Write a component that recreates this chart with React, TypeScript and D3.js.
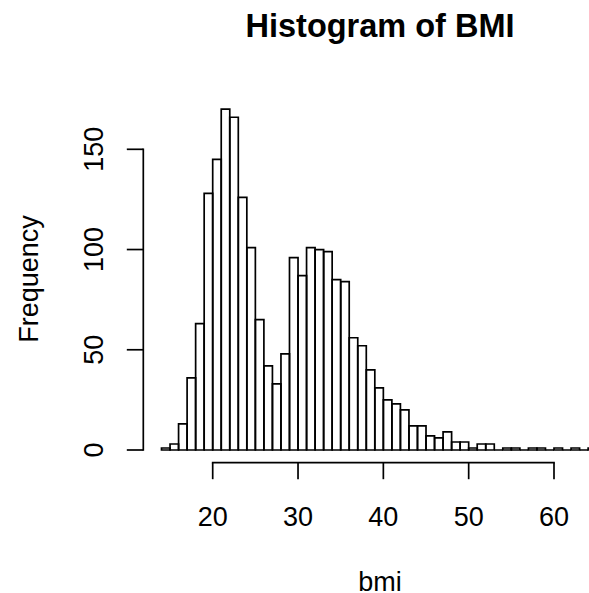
import React, { useEffect, useRef } from 'react';
import * as d3 from 'd3';

// bin edges of the histogram (width 1)
const breaks = [
  14, 15, 16, 17, 18, 19, 20, 21, 22, 23, 24, 25, 26, 27, 28, 29, 30, 31, 32, 33,
  34, 35, 36, 37, 38, 39, 40, 41, 42, 43, 44, 45, 46, 47, 48, 49, 50, 51, 52, 53,
  54, 55, 56, 57, 58, 59, 60, 61, 62, 63, 64, 65,
];

// counts per bin
const counts = [
  1, 3, 13, 36, 63, 128, 145, 170, 166, 126, 101, 65, 42, 33, 48, 96, 87, 101, 100, 99,
  85, 84, 56, 52, 40, 31, 25, 23, 20, 12, 12, 7, 6, 9, 4, 4, 1, 3, 3, 0,
  1, 1, 0, 1, 1, 0, 1, 0, 1, 0, 1,
];

const xTicks = [20, 30, 40, 50, 60];
const yTicks = [0, 50, 100, 150];

const W = 589;
const H = 593;
const FONT = '"Liberation Sans", Arial, Helvetica, sans-serif';

const App = () => {
  const ref = useRef<SVGSVGElement>(null);

  useEffect(() => {
    const svg = d3.select(ref.current);
    svg.selectAll('*').remove();

    const x = d3.scaleLinear().domain([20, 60]).range([212.7, 554]);
    const y = d3.scaleLinear().domain([0, 150]).range([450, 149.3]);

    const lw = 1.7;
    const axisY = 462.7;
    const axisX = 143.3;
    const tick = 16.5;

    // bars (paths so that empty bins still show as a line)
    svg.append('g')
      .selectAll('path')
      .data(counts)
      .enter().append('path')
      .attr('d', (d, i) => {
        const x0 = x(breaks[i]);
        const x1 = x(breaks[i + 1]);
        return `M${x0},${y(0)}H${x1}V${y(d)}H${x0}Z`;
      })
      .attr('fill', 'none')
      .attr('stroke', '#000')
      .attr('stroke-width', lw)
      .attr('stroke-linejoin', 'miter');

    // x axis
    const gx = svg.append('g');
    gx.append('line')
      .attr('x1', x(xTicks[0])).attr('x2', x(xTicks[xTicks.length - 1]))
      .attr('y1', axisY).attr('y2', axisY)
      .attr('stroke', '#000').attr('stroke-width', lw).attr('stroke-linecap', 'square');
    gx.selectAll('line.tick')
      .data(xTicks)
      .enter().append('line')
      .attr('class', 'tick')
      .attr('x1', (d) => x(d)).attr('x2', (d) => x(d))
      .attr('y1', axisY).attr('y2', axisY + tick)
      .attr('stroke', '#000').attr('stroke-width', lw);
    gx.selectAll('text')
      .data(xTicks)
      .enter().append('text')
      .attr('x', (d) => x(d))
      .attr('y', 526)
      .attr('text-anchor', 'middle')
      .style('font', `27px ${FONT}`)
      .text((d) => d);

    // y axis
    const gy = svg.append('g');
    gy.append('line')
      .attr('x1', axisX).attr('x2', axisX)
      .attr('y1', y(yTicks[0])).attr('y2', y(yTicks[yTicks.length - 1]))
      .attr('stroke', '#000').attr('stroke-width', lw).attr('stroke-linecap', 'square');
    gy.selectAll('line.tick')
      .data(yTicks)
      .enter().append('line')
      .attr('class', 'tick')
      .attr('x1', axisX).attr('x2', axisX - tick)
      .attr('y1', (d) => y(d)).attr('y2', (d) => y(d))
      .attr('stroke', '#000').attr('stroke-width', lw);
    gy.selectAll('text')
      .data(yTicks)
      .enter().append('text')
      .attr('transform', (d) => `translate(103.3,${y(d)}) rotate(-90)`)
      .attr('text-anchor', 'middle')
      .style('font', `27px ${FONT}`)
      .text((d) => d);

    // titles
    svg.append('text')
      .attr('x', 380).attr('y', 37)
      .attr('text-anchor', 'middle')
      .style('font', `bold 32.5px ${FONT}`)
      .text('Histogram of BMI');

    svg.append('text')
      .attr('x', 380).attr('y', 591)
      .attr('text-anchor', 'middle')
      .style('font', `27px ${FONT}`)
      .text('bmi');

    svg.append('text')
      .attr('transform', 'translate(38.3,279) rotate(-90)')
      .attr('text-anchor', 'middle')
      .style('font', `27px ${FONT}`)
      .text('Frequency');
  }, []);

  return (
    <svg
      ref={ref}
      width={W}
      height={H}
      style={{ position: 'absolute', left: 0, top: 0, background: '#fff', display: 'block' }}
    ></svg>
  );
};

export default App;
